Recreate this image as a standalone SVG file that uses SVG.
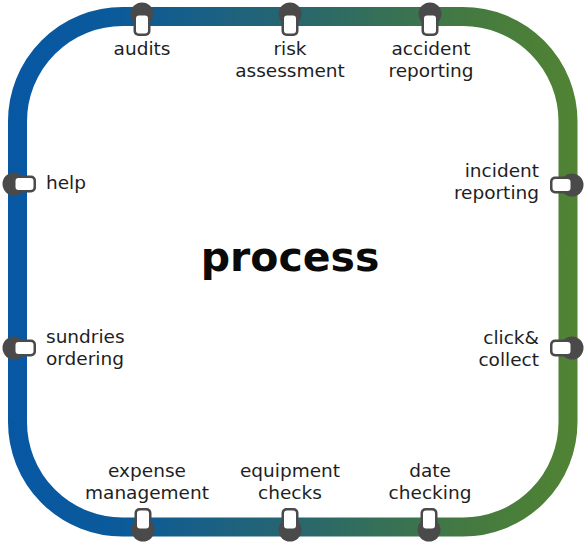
<svg xmlns="http://www.w3.org/2000/svg" width="586" height="546" viewBox="0 0 586 546">
<defs>
<linearGradient id="track" x1="0" y1="0" x2="586" y2="0" gradientUnits="userSpaceOnUse">
<stop offset="0" stop-color="#0757a5"/>
<stop offset="0.2" stop-color="#0b5a9a"/>
<stop offset="0.5" stop-color="#27666f"/>
<stop offset="0.8" stop-color="#447a40"/>
<stop offset="1" stop-color="#528432"/>
</linearGradient>
<g id="stn">
<circle cx="0" cy="0" r="11.5" fill="#4a4a4a"/>
<rect x="-8.5" y="-3" width="17" height="25" rx="5" fill="#4a4a4a"/>
<rect x="-6" y="1.5" width="12" height="18" rx="3" fill="#ffffff"/>
</g>
<style>
.lb{font-family:"DejaVu Sans","Liberation Sans",sans-serif;font-size:18.5px;fill:#1e1e1e}
.c{text-anchor:middle}
.r{text-anchor:end}
.t{font-family:"DejaVu Sans","Liberation Sans",sans-serif;font-size:41px;font-weight:bold;fill:#0a0a0a;text-anchor:middle}
</style>
</defs>
<rect width="586" height="546" fill="#ffffff"/>
<g id="connectors">
<rect x="17.5" y="16.5" width="550.5" height="510.5" rx="105" ry="105" fill="none" stroke="url(#track)" stroke-width="19"/>
</g>
<g id="audits"><use href="#stn" transform="translate(142,14)"/><text class="lb c" x="142" y="55">audits</text></g>
<g id="risk"><use href="#stn" transform="translate(290,14)"/><text class="lb c" x="290" y="55">risk</text><text class="lb c" x="290" y="77">assessment</text></g>
<g id="accident"><use href="#stn" transform="translate(430,14)"/><text class="lb c" x="431" y="55">accident</text><text class="lb c" x="431" y="77">reporting</text></g>
<g id="help"><use href="#stn" transform="translate(14,184) rotate(-90)"/><text class="lb" x="46" y="189">help</text></g>
<g id="sundries"><use href="#stn" transform="translate(14,348) rotate(-90)"/><text class="lb" x="46" y="343">sundries</text><text class="lb" x="46" y="365">ordering</text></g>
<g id="incident"><use href="#stn" transform="translate(572,185) rotate(90)"/><text class="lb r" x="539" y="177">incident</text><text class="lb r" x="539" y="199">reporting</text></g>
<g id="click"><use href="#stn" transform="translate(572,348) rotate(90)"/><text class="lb r" x="539" y="344">click&amp;</text><text class="lb r" x="539" y="366">collect</text></g>
<g id="expense"><use href="#stn" transform="translate(143,530) rotate(180)"/><text class="lb c" x="147" y="477">expense</text><text class="lb c" x="147" y="499">management</text></g>
<g id="equipment"><use href="#stn" transform="translate(290,530) rotate(180)"/><text class="lb c" x="290" y="477">equipment</text><text class="lb c" x="290" y="499">checks</text></g>
<g id="date"><use href="#stn" transform="translate(429,530) rotate(180)"/><text class="lb c" x="430" y="477">date</text><text class="lb c" x="430" y="499">checking</text></g>
<g id="process"><text class="t" x="290" y="271">process</text></g>
</svg>
